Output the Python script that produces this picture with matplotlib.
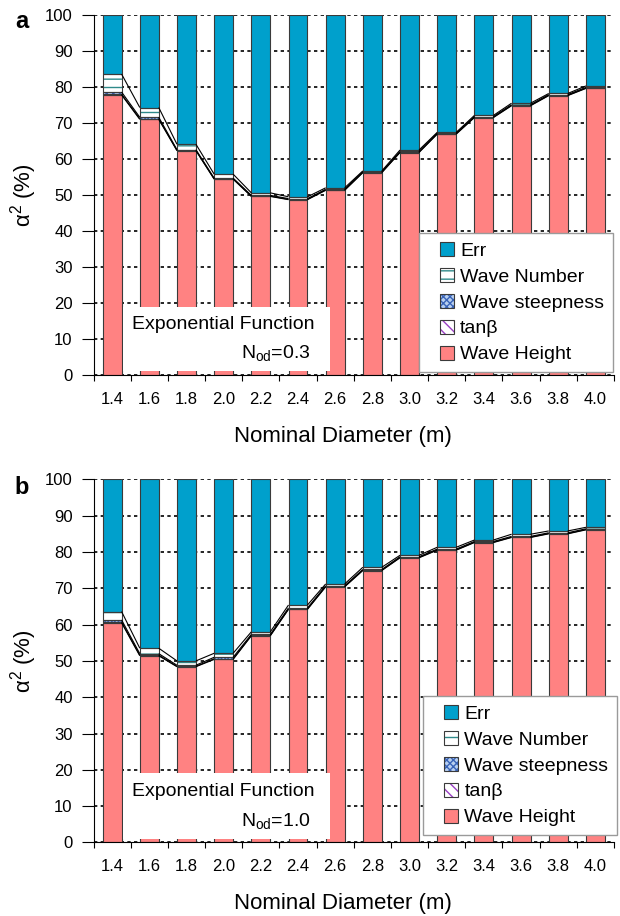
import numpy as np
import matplotlib
matplotlib.use("Agg")
import matplotlib.pyplot as plt
from matplotlib.patches import Patch, Rectangle
from matplotlib.legend_handler import HandlerBase

plt.rcParams['font.family'] = ['Liberation Sans', 'DejaVu Sans']
plt.rcParams['mathtext.fontset'] = 'custom'
plt.rcParams['mathtext.rm'] = 'Liberation Sans'
plt.rcParams['mathtext.it'] = 'Liberation Sans'
plt.rcParams['hatch.linewidth'] = 1.0

sizes = ['1.4', '1.6', '1.8', '2.0', '2.2', '2.4', '2.6', '2.8', '3.0', '3.2', '3.4', '3.6', '3.8', '4.0']

# panel a (N_od = 0.3)
a_wave_height = [77.8, 71.0, 62.3, 54.4, 49.6, 48.7, 51.3, 56.2, 61.8, 66.9, 71.5, 74.8, 77.6, 79.6]
a_tanb = [0.2, 0.2, 0.1, 0.1, 0.1, 0.1, 0.1, 0.1, 0.1, 0.1, 0.1, 0.1, 0.1, 0.1]
a_steep = [0.6, 0.4, 0.2, 0.2, 0.2, 0.2, 0.2, 0.2, 0.2, 0.2, 0.2, 0.2, 0.2, 0.2]
a_wave_number = [5.0, 2.7, 1.5, 1.1, 0.7, 0.5, 0.4, 0.2, 0.4, 0.2, 0.3, 0.4, 0.3, 0.4]
a_err = [16.4, 25.7, 35.9, 44.2, 49.4, 50.5, 48.0, 43.3, 37.5, 32.6, 27.9, 24.5, 21.8, 19.7]

# panel b (N_od = 1.0)
b_wave_height = [60.5, 51.4, 48.4, 50.4, 56.9, 64.2, 70.4, 74.9, 78.4, 80.5, 82.6, 84.0, 85.0, 86.1]
b_tanb = [0.2, 0.2, 0.1, 0.2, 0.1, 0.1, 0.1, 0.1, 0.1, 0.1, 0.1, 0.1, 0.1, 0.1]
b_steep = [0.6, 0.4, 0.3, 0.4, 0.3, 0.3, 0.2, 0.2, 0.2, 0.2, 0.2, 0.2, 0.2, 0.2]
b_wave_number = [2.3, 1.5, 1.2, 1.1, 0.7, 0.8, 0.5, 0.6, 0.4, 0.5, 0.4, 0.6, 0.5, 0.4]
b_err = [36.4, 46.5, 50.0, 47.9, 42.0, 34.6, 28.8, 24.2, 20.9, 18.7, 16.7, 15.1, 14.2, 13.2]

series_names = ['Wave Height', 'tan\u03b2', 'Wave steepness', 'Wave Number', 'Err']
# (face, hatch colour, hatch)
styles = [
    ('#ff8282', None, None),
    ('white', '#9a3fc4', '\\\\\\'),
    ('#b8d0f0', '#3a64b8', 'xxxxx'),
    ('white', '#2f8a8a', '--'),
    ('#00a0cc', None, None),
]
EDGE = '#3a3a3a'


class SwatchHandler(HandlerBase):
    """Square swatch drawn at the right end of the handle box."""
    def __init__(self, size):
        super().__init__()
        self.size = size

    def create_artists(self, legend, orig_handle, xdescent, ydescent,
                       width, height, fontsize, trans):
        s = self.size
        arts = []
        for p in orig_handle:
            r = Rectangle((-xdescent + width - s, -ydescent + (height - s) / 2), s, s)
            r.update_from(p)
            r.set_transform(trans)
            arts.append(r)
        return arts


fig = plt.figure(figsize=(6.2, 9.16), dpi=100)
W, H = 620, 916
ax_a = fig.add_axes([93.5 / W, 1 - 375 / H, 520.5 / W, 360 / H])
ax_b = fig.add_axes([93.5 / W, 1 - 842.4 / H, 520.5 / W, 363 / H])


def draw(ax, data, nod, xlab_y, leg_anchor):
    x = np.arange(len(sizes))
    w = 0.51
    bottom = np.zeros(len(sizes))
    tops = []
    for vals, (face, hcol, hatch) in zip(data, styles):
        vals = np.asarray(vals, dtype=float)
        if hatch:
            ax.bar(x, vals, w, bottom=bottom, facecolor=face, edgecolor=hcol,
                   hatch=hatch, linewidth=0, zorder=2)
        else:
            ax.bar(x, vals, w, bottom=bottom, facecolor=face, linewidth=0, zorder=2)
        ax.bar(x, vals, w, bottom=bottom, facecolor='none', edgecolor=EDGE,
               linewidth=0.8, zorder=2.2)
        bottom = bottom + vals
        tops.append(bottom.copy())
    # series lines
    for t in tops[:-1]:
        for i in range(len(x) - 1):
            ax.plot([x[i] + w / 2, x[i + 1] - w / 2], [t[i], t[i + 1]],
                    color='black', lw=0.8, zorder=2.5, solid_capstyle='butt')

    ax.set_xlim(-0.5, len(sizes) - 0.5)
    ax.set_ylim(0, 100)
    ax.set_yticks(np.arange(0, 101, 10))
    ax.set_xticks(x)
    ax.set_xticklabels(sizes)
    ax.set_xticks(np.arange(-0.5, len(sizes), 1.0), minor=True)
    ax.tick_params(axis='x', which='major', length=0, pad=12, labelsize=12)
    ax.tick_params(axis='x', which='minor', length=4, width=0.8, direction='out')
    ax.tick_params(axis='y', length=9, width=0.8, direction='out', labelsize=12, pad=6)
    for s in ['top', 'right']:
        ax.spines[s].set_visible(False)
    for s in ['left', 'bottom']:
        ax.spines[s].set_linewidth(0.8)
        ax.spines[s].set_zorder(3.5)
    ax.set_axisbelow(True)
    ax.yaxis.grid(True, linestyle=(0, (2, 2)), color='black', lw=1.2)

    ax.set_xlabel('Nominal Diameter (m)', fontsize=16)
    ax.set_ylabel('$\\mathregular{\u03b1^{2}}$ (%)', fontsize=16)
    ax.yaxis.set_label_coords(-0.105, 0.5)
    ax.xaxis.set_label_coords(0.479, xlab_y)

    ax.add_patch(Rectangle((0.30, 1.0), 5.57, 18.0, facecolor='white',
                           edgecolor='none', zorder=3))
    ax.text(3.0, 14.0, 'Exponential Function', ha='center', va='center',
            fontsize=14, zorder=4)
    ax.text(5.33, 6.0, '$\\mathregular{N_{od}}$=' + nod, ha='right', va='center',
            fontsize=14, zorder=4)

    handles = []
    for (face, hcol, hatch) in styles[::-1]:
        if hatch:
            p1 = Patch(facecolor=face, edgecolor=hcol, hatch=hatch, linewidth=0)
        else:
            p1 = Patch(facecolor=face, linewidth=0)
        p2 = Patch(facecolor='none', edgecolor=EDGE, linewidth=0.8)
        handles.append((p1, p2))
    leg = ax.legend(handles, series_names[::-1], loc='lower right',
                    bbox_to_anchor=leg_anchor, fontsize=14,
                    handler_map={tuple: SwatchHandler(10)},
                    handlelength=1.35, handleheight=0.72, handletextpad=0.31,
                    labelspacing=0.42, borderpad=0.45, borderaxespad=0,
                    fancybox=False, framealpha=1, edgecolor='#9a9a9a')
    leg.get_frame().set_linewidth(1.0)
    leg.set_zorder(5)


draw(ax_a, [a_wave_height, a_tanb, a_steep, a_wave_number, a_err], '0.3',
     -0.142, (0.998, 0.008))
draw(ax_b, [b_wave_height, b_tanb, b_steep, b_wave_number, b_err], '1.0',
     -0.14, (1.006, 0.02))

fig.text(22 / W, 1 - 21 / H, 'a', fontsize=17, fontweight='bold', va='center', ha='center')
fig.text(22 / W, 1 - 488 / H, 'b', fontsize=17, fontweight='bold', va='center', ha='center')

fig.savefig('out.png', dpi=100)
